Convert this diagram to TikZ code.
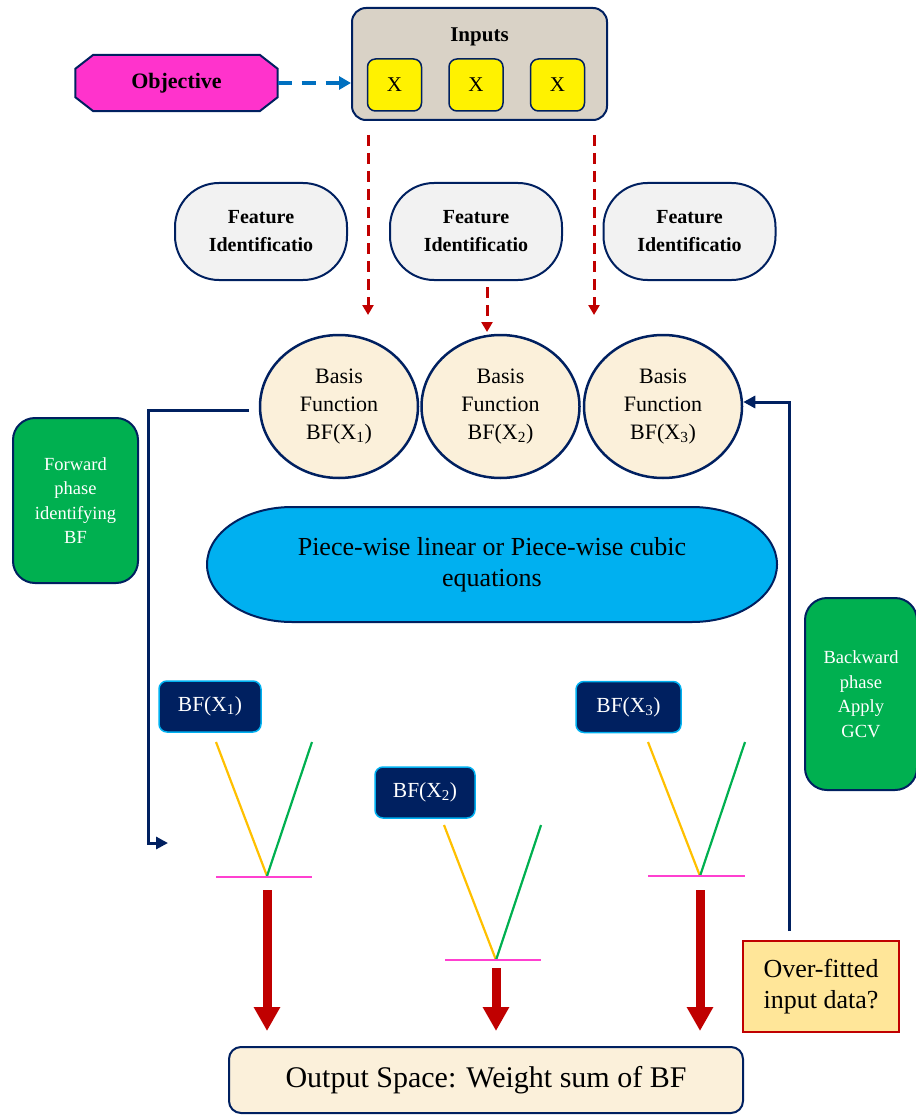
\documentclass[tikz,border=0pt]{standalone}
\usepackage{fontspec}
\setmainfont{Liberation Serif}
\usepackage{xcolor}
\usetikzlibrary{arrows.meta,shapes.geometric}

\definecolor{navy}{RGB}{0,32,96}
\definecolor{magentabox}{RGB}{255,51,204}
\definecolor{stonegray}{RGB}{217,210,198}
\definecolor{creamfill}{RGB}{251,240,218}
\definecolor{skyfill}{RGB}{0,176,240}
\definecolor{greenfill}{RGB}{0,176,80}
\definecolor{darkred}{RGB}{192,0,0}
\definecolor{dashblue}{RGB}{0,112,192}
\definecolor{amber}{RGB}{255,192,0}
\definecolor{pinkline}{RGB}{255,64,208}
\definecolor{paleorange}{RGB}{255,230,153}

\begin{document}
\begin{tikzpicture}[x=1pt,y=-1pt,>={Triangle[length=12pt,width=12pt]},
  border/.style={draw=navy,line width=2pt},
  featbox/.style={rectangle,rounded corners=44pt,border,fill=black!5,minimum width=172pt,minimum height=97pt,align=center,font=\fontsize{20}{28}\selectfont\bfseries},
  basisfn/.style={ellipse,border,line width=2.5pt,fill=creamfill,minimum width=158pt,minimum height=143pt,inner sep=0pt,align=center,font=\fontsize{22}{28}\selectfont},
  xbox/.style={rectangle,rounded corners=8pt,draw=navy,line width=1.5pt,fill=yellow,minimum width=54pt,minimum height=52pt,font=\fontsize{21}{24}\selectfont},
  bfbox/.style={rectangle,rounded corners=8pt,draw=skyfill,line width=1.5pt,fill=navy,text=white,minimum height=51pt,font=\fontsize{21.5}{26}\selectfont},
  phasebox/.style={rectangle,rounded corners=22pt,border,fill=greenfill,text=white,align=center,font=\fontsize{18.5}{24.5}\selectfont},
  feedback/.style={draw=navy,line width=3pt,->},
  reddash/.style={draw=darkred,line width=3pt,dash pattern=on 11pt off 7pt,-{Triangle[length=10pt,width=11pt]}},
  bigred/.style={draw=darkred,line width=9pt,-{Triangle[length=24pt,width=25pt]}},
  hinge/.style={line width=2.2pt}]
  \useasboundingbox (0,0) rectangle (915,1115);

  % top row
  \node[minimum width=202pt,minimum height=56pt,inner sep=0pt,font=\fontsize{22}{26}\selectfont\bfseries] (obj) at (176.5,83) {};
  \draw[border,fill=magentabox] ([xshift=18pt]obj.north west) -- ([xshift=-18pt]obj.north east) -- ([yshift=-14pt]obj.north east) -- ([yshift=14pt]obj.south east) -- ([xshift=-18pt]obj.south east) -- ([xshift=18pt]obj.south west) -- ([yshift=14pt]obj.south west) -- ([yshift=-14pt]obj.north west) -- cycle;
  \node[font=\fontsize{22}{26}\selectfont\bfseries] (objlabel) at (obj) {Objective};
  \node[rectangle,rounded corners=14pt,border,fill=stonegray,minimum width=255pt,minimum height=112pt] (inputs) at (479.5,64) {};
  \node[font=\fontsize{21}{26}\selectfont\bfseries] (inlabel) at (479.5,37) {Inputs};
  \node[xbox] (x1) at (394.5,85) {X};
  \node[xbox] (x2) at (476,85) {X};
  \node[xbox] (x3) at (557.5,85) {X};
  \draw[draw=dashblue,line width=4pt,dash pattern=on 14pt off 10pt,-{Triangle[length=12pt,width=13pt]}] (obj.east) -- (inputs.west |- obj.east);

  % feature identification
  \node[featbox] (feat1) at (261,231.5) {Feature\\Identificatio};
  \node[featbox] (feat2) at (476,231.5) {Feature\\Identificatio};
  \node[featbox] (feat3) at (689.5,231.5) {Feature\\Identificatio};

  % basis functions
  \node[basisfn] (bf1) at (339,406.5) {Basis\\Function\\BF(X\textsubscript{1})};
  \node[basisfn] (bf2) at (500.5,406.5) {Basis\\Function\\BF(X\textsubscript{2})};
  \node[basisfn] (bf3) at (663,406.5) {Basis\\Function\\BF(X\textsubscript{3})};

  \coordinate (d1a) at (368,135);
  \coordinate (d1b) at (368,315);
  \coordinate (d2a) at (487,287);
  \coordinate (d2b) at (487,332);
  \coordinate (d3a) at (594,135);
  \coordinate (d3b) at (594,315);
  \draw[reddash] (d1a) -- (d1b);
  \draw[reddash] (d2a) -- (d2b);
  \draw[reddash] (d3a) -- (d3b);

  % piece-wise pill
  \draw[border,fill=skyfill] (292,507) -- (692,507) arc[start angle=90,end angle=-90,x radius=85pt,y radius=57.5pt] -- (292,622) arc[start angle=270,end angle=90,x radius=85pt,y radius=57.5pt] -- cycle;
  \node[align=center,font=\fontsize{26}{31}\selectfont] (pill) at (492,564.5) {Piece-wise linear or Piece-wise cubic\\equations};

  % phases
  \node[phasebox,minimum width=125pt,minimum height=165pt] (fwd) at (75.5,500.5) {Forward\\phase\\identifying\\BF};
  \node[phasebox,minimum width=112pt,minimum height=192pt] (bwd) at (861,694) {Backward\\phase\\Apply\\GCV};

  % hinge functions
  \node[bfbox,minimum width=102pt] (bfx1) at (210,706.5) {BF(X\textsubscript{1})};
  \node[bfbox,minimum width=100pt] (bfx2) at (425,792.5) {BF(X\textsubscript{2})};
  \node[bfbox,minimum width=105pt] (bfx3) at (628.5,707) {BF(X\textsubscript{3})};

  \draw[hinge,amber] (216,742) -- (267,876);
  \draw[hinge,greenfill] (312,742) -- (267,876);
  \draw[hinge,pinkline] (216,877) -- (312,877);
  \draw[hinge,amber] (444,825) -- (496,960);
  \draw[hinge,greenfill] (541,825) -- (496,960);
  \draw[hinge,pinkline] (445,960) -- (541,960);
  \draw[hinge,amber] (648,742) -- (700,876);
  \draw[hinge,greenfill] (745,742) -- (700,876);
  \draw[hinge,pinkline] (648,876) -- (745,876);

  % output
  \node[rectangle,rounded corners=12pt,border,fill=creamfill,minimum width=514pt,minimum height=66pt,font=\fontsize{30}{34}\selectfont] (out) at (486,1080) {Output Space: Weight sum of BF};
  \node[rectangle,draw=darkred,line width=2.5pt,fill=paleorange,minimum width=156pt,minimum height=91pt,align=center,font=\fontsize{26}{31}\selectfont] (over) at (821,986.5) {Over-fitted\\input data?};

  \coordinate (r1) at (267,890);
  \coordinate (r2) at (496,968);
  \coordinate (r3) at (700,890);
  \draw[bigred] (r1) -- (r1 |- 0,1031);
  \draw[bigred] (r2) -- (r2 |- 0,1031);
  \draw[bigred] (r3) -- (r3 |- 0,1031);

  % feedback loops
  \coordinate (fbl) at (249,410);
  \coordinate (fbl2) at (168,843);
  \draw[feedback] (fbl) -- (148,410) -- (148,843) -- (fbl2);
  \coordinate (fbr) at (789,931);
  \draw[feedback] (fbr) -- (789,402) -- (bf3.east |- 0,402);
\end{tikzpicture}
\end{document}
